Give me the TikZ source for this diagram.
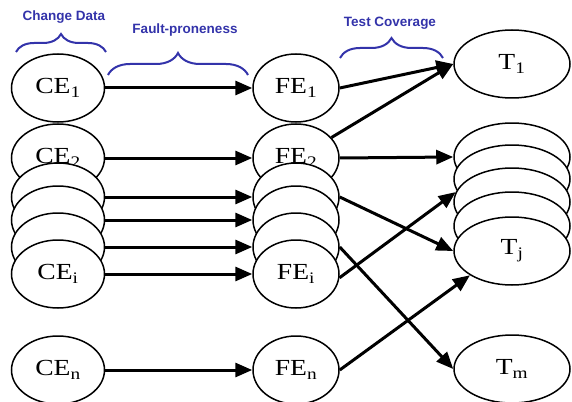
\documentclass[tikz,border=0pt]{standalone}
\usepackage{fontspec}
\setmainfont{Liberation Serif}
\newfontfamily\nodefont[FakeStretch=1.2]{Liberation Serif}
\newfontfamily\labelfont{Liberation Sans}
\usetikzlibrary{shapes.geometric,arrows.meta,decorations.pathreplacing}
\definecolor{braceblue}{RGB}{51,51,170}
\begin{document}
\begin{tikzpicture}[x=1pt,y=-1pt,
  ell/.style={ellipse, draw, fill=white, line width=1.5pt, inner sep=0pt, font=\nodefont\fontsize{23}{25}\selectfont},
  ce/.style={ell, minimum width=93pt, minimum height=68pt},
  fe/.style={ell, minimum width=86pt, minimum height=68pt},
  tt/.style={ell, minimum width=116pt, minimum height=68pt},
  arr/.style={line width=3pt, -{Triangle[length=17pt,width=14pt]}},
  lbl/.style={text=braceblue, font=\labelfont\bfseries\fontsize{13.5}{16}\selectfont},
  brc/.style={draw=braceblue, line width=2pt, decorate, decoration={brace, amplitude=#1}}
]
\useasboundingbox (0,0) rectangle (572,401);
% braces and labels
\node[lbl] (lcd) at (64,17) {Change Data};
\node[lbl] (lfp) at (185,30) {Fault-proneness};
\node[lbl] (ltc) at (390,23) {Test Coverage};
\coordinate (b1a) at (16,52);  \coordinate (b1b) at (106,52);
\coordinate (b2a) at (108,75); \coordinate (b2b) at (248,75);
\coordinate (b3a) at (340,58); \coordinate (b3b) at (443,58);
\draw[brc=18pt] (b1a) -- (b1b);
\draw[brc=22pt] (b2a) -- (b2b);
\draw[brc=20pt] (b3a) -- (b3b);
% CE column
\node[ce] (ce1) at (58,88) {CE\textsubscript{1}};
\node[ce] (ce2) at (58,158) {CE\textsubscript{2}};
\node[ce] (cs1) at (58,197) {};
\node[ce] (cs2) at (58,220) {};
\node[ce] (cs3) at (58,247) {};
\node[ce] (cei) at (58,274) {CE\textsubscript{i}};
\node[ce] (cen) at (58,370) {CE\textsubscript{n}};
% FE column
\node[fe] (fe1) at (296,88) {FE\textsubscript{1}};
\node[fe] (fe2) at (296,158) {FE\textsubscript{2}};
\node[fe] (fs1) at (296,197) {};
\node[fe] (fs2) at (296,220) {};
\node[fe] (fs3) at (296,247) {};
\node[fe] (fei) at (296,274) {FE\textsubscript{i}};
\node[fe] (fen) at (296,370) {FE\textsubscript{n}};
% T column
\node[tt] (t1) at (512,64) {T\textsubscript{1}};
\node[tt] (ts1) at (512,157) {};
\node[tt] (ts2) at (512,179) {};
\node[tt] (ts3) at (512,202) {};
\node[tt] (ts4) at (512,226) {};
\node[tt] (tj) at (512,251) {T\textsubscript{j}};
\node[tt] (tm) at (512,369) {T\textsubscript{m}};
% CE -> FE
\draw[arr] (ce1) -- (fe1);
\draw[arr] (ce2) -- (fe2);
\draw[arr] (cs1) -- (fs1);
\draw[arr] (cs2) -- (fs2);
\draw[arr] (cs3) -- (fs3);
\draw[arr] (cei) -- (fei);
\draw[arr] (cen) -- (fen);
% FE -> T
\draw[arr] (fe1.east) -- (t1.west);
\draw[arr] (fe2.30) -- (t1.west);
\draw[arr] (fe2.east) -- (ts1.west);
\draw[arr] (fs1.east) -- (tj.west);
\draw[arr] (fei.-5) -- (ts3.170);
\draw[arr] (fs3.east) -- (tm.west);
\draw[arr] (fen.east) -- (tj.210);
\end{tikzpicture}
\end{document}
